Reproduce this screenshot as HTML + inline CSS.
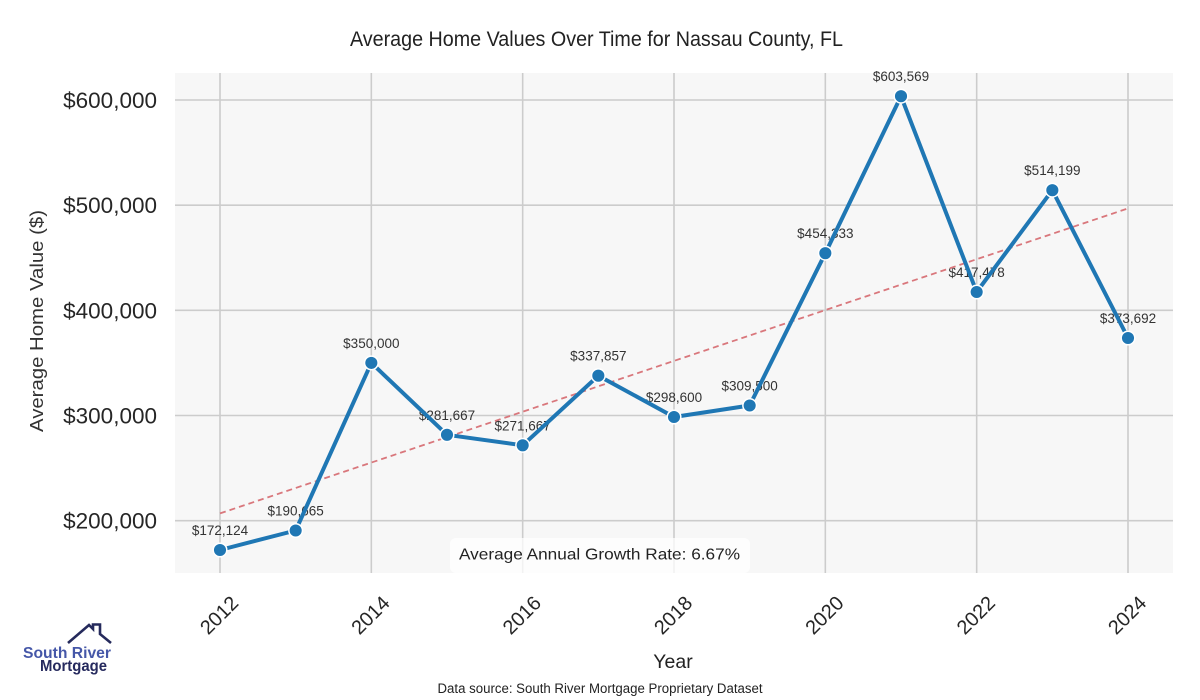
<!DOCTYPE html>
<html>
<head>
<meta charset="utf-8">
<style>
  html, body { margin: 0; padding: 0; background: #ffffff; }
  svg { display: block; }
  text { font-family: "Liberation Sans", Arial, sans-serif; }
</style>
</head>
<body>
<svg width="1200" height="700" viewBox="0 0 1200 700" xmlns="http://www.w3.org/2000/svg">
  <rect x="0" y="0" width="1200" height="700" fill="#ffffff"/>

  <!-- Title -->
  <text x="596.5" y="46" font-size="21" fill="#222" text-anchor="middle" textLength="493" lengthAdjust="spacingAndGlyphs">Average Home Values Over Time for Nassau County, FL</text>

  <!-- Plot area -->
  <rect x="175" y="73" width="998" height="500" fill="#f7f7f7"/>

  <!-- Grid -->
  <g stroke="#cccccc" stroke-width="1.6">
    <line x1="220" y1="73" x2="220" y2="573"/>
    <line x1="371.33" y1="73" x2="371.33" y2="573"/>
    <line x1="522.67" y1="73" x2="522.67" y2="573"/>
    <line x1="674" y1="73" x2="674" y2="573"/>
    <line x1="825.33" y1="73" x2="825.33" y2="573"/>
    <line x1="976.67" y1="73" x2="976.67" y2="573"/>
    <line x1="1128" y1="73" x2="1128" y2="573"/>
    <line x1="175" y1="100" x2="1173" y2="100"/>
    <line x1="175" y1="205.2" x2="1173" y2="205.2"/>
    <line x1="175" y1="310.3" x2="1173" y2="310.3"/>
    <line x1="175" y1="415.5" x2="1173" y2="415.5"/>
    <line x1="175" y1="520.7" x2="1173" y2="520.7"/>
  </g>

  <!-- Y tick labels -->
  <g font-size="22.5" fill="#262626" text-anchor="end">
    <text x="157" y="108">$600,000</text>
    <text x="157" y="213.2">$500,000</text>
    <text x="157" y="318.3">$400,000</text>
    <text x="157" y="423.5">$300,000</text>
    <text x="157" y="528.7">$200,000</text>
  </g>

  <!-- Y axis label -->
  <text x="43" y="321" font-size="18" fill="#333" text-anchor="middle" transform="rotate(-90 43 321)" textLength="222" lengthAdjust="spacingAndGlyphs">Average Home Value ($)</text>

  <!-- X tick labels -->
  <g font-size="20" fill="#262626" text-anchor="middle">
    <text x="0" y="0" transform="translate(219,615) rotate(-45) translate(0,7)">2012</text>
    <text x="0" y="0" transform="translate(370.33,615) rotate(-45) translate(0,7)">2014</text>
    <text x="0" y="0" transform="translate(521.67,615) rotate(-45) translate(0,7)">2016</text>
    <text x="0" y="0" transform="translate(673,615) rotate(-45) translate(0,7)">2018</text>
    <text x="0" y="0" transform="translate(824.33,615) rotate(-45) translate(0,7)">2020</text>
    <text x="0" y="0" transform="translate(975.67,615) rotate(-45) translate(0,7)">2022</text>
    <text x="0" y="0" transform="translate(1127,615) rotate(-45) translate(0,7)">2024</text>
  </g>

  <!-- X axis label -->
  <text x="673" y="668" font-size="19.5" fill="#222" text-anchor="middle">Year</text>

  <!-- Data labels -->
  <g font-size="13.5" fill="#333" text-anchor="middle">
    <text x="220" y="535">$172,124</text>
    <text x="295.67" y="515.5">$190,665</text>
    <text x="371.33" y="347.9">$350,000</text>
    <text x="447" y="419.8">$281,667</text>
    <text x="522.67" y="430.3">$271,667</text>
    <text x="598.33" y="360.7">$337,857</text>
    <text x="674" y="402">$298,600</text>
    <text x="749.67" y="390.5">$309,500</text>
    <text x="825.33" y="238.2">$454,333</text>
    <text x="901" y="81.2">$603,569</text>
    <text x="976.67" y="277">$417,478</text>
    <text x="1052.33" y="175.2">$514,199</text>
    <text x="1128" y="323">$373,692</text>
  </g>

  <!-- Trend line -->
  <line x1="220" y1="513.4" x2="1128" y2="208.4" stroke="#d9777c" stroke-width="1.8" stroke-dasharray="6,4"/>

  <!-- Data line -->
  <polyline fill="none" stroke="#1f77b4" stroke-width="4" stroke-linejoin="round" stroke-linecap="round"
    points="220,550 295.67,530.5 371.33,362.9 447,434.8 522.67,445.3 598.33,375.7 674,417 749.67,405.5 825.33,253.2 901,96.2 976.67,292 1052.33,190.2 1128,338"/>

  <!-- Markers -->
  <g fill="#1f77b4" stroke="#ffffff" stroke-width="1.5">
    <circle cx="220" cy="550" r="6.8"/>
    <circle cx="295.67" cy="530.5" r="6.8"/>
    <circle cx="371.33" cy="362.9" r="6.8"/>
    <circle cx="447" cy="434.8" r="6.8"/>
    <circle cx="522.67" cy="445.3" r="6.8"/>
    <circle cx="598.33" cy="375.7" r="6.8"/>
    <circle cx="674" cy="417" r="6.8"/>
    <circle cx="749.67" cy="405.5" r="6.8"/>
    <circle cx="825.33" cy="253.2" r="6.8"/>
    <circle cx="901" cy="96.2" r="6.8"/>
    <circle cx="976.67" cy="292" r="6.8"/>
    <circle cx="1052.33" cy="190.2" r="6.8"/>
    <circle cx="1128" cy="338" r="6.8"/>
  </g>

  <!-- Growth rate box -->
  <rect x="450" y="538" width="300" height="35" rx="6" ry="6" fill="#ffffff" fill-opacity="0.75"/>
  <text x="599.5" y="559.5" font-size="16" fill="#222" text-anchor="middle" textLength="281" lengthAdjust="spacingAndGlyphs">Average Annual Growth Rate: 6.67%</text>

  <!-- Data source -->
  <text x="600" y="693" font-size="13.5" fill="#222" text-anchor="middle" textLength="325" lengthAdjust="spacingAndGlyphs">Data source: South River Mortgage Proprietary Dataset</text>

  <!-- Logo -->
  <polyline fill="none" stroke="#252a5c" stroke-width="2.6" stroke-linejoin="miter"
    points="68,643 89,625 93,629 93,624.5 100,624.5 100,634 111,643"/>
  <text x="67" y="658" font-size="16" font-weight="bold" fill="#4557a8" text-anchor="middle" textLength="88" lengthAdjust="spacingAndGlyphs">South River</text>
  <text x="73.5" y="671" font-size="16" font-weight="bold" fill="#262a5e" text-anchor="middle" textLength="67" lengthAdjust="spacingAndGlyphs">Mortgage</text>
</svg>
</body>
</html>
